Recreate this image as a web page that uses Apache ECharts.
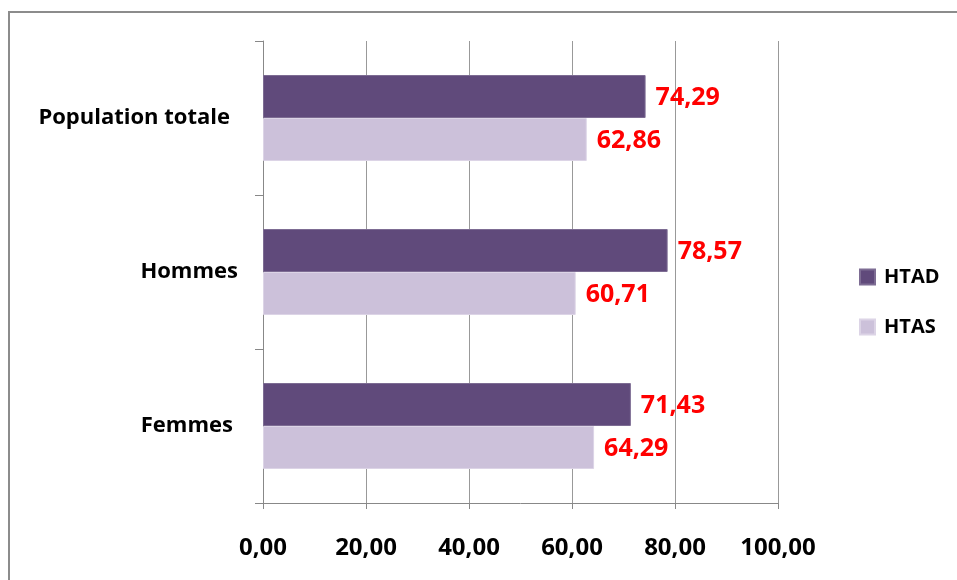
<!DOCTYPE html>
<html>
<head>
<meta charset="utf-8">
<script src="https://cdn.jsdelivr.net/npm/echarts@6/dist/echarts.min.js"></script>
<style>
  html, body { margin: 0; padding: 0; background: #fff; }
  #chart { width: 957px; height: 580px; }
</style>
</head>
<body>
<div id="chart"></div>
<script>
// Categories listed bottom-to-top (ECharts category y-axis starts at the bottom)
const categories = ['Femmes', 'Hommes', 'Population totale'];
const htad = [71.43, 78.57, 74.29];
const htas = [64.29, 60.71, 62.86];
const xTicks = [0, 20, 40, 60, 80, 100];

const fontFamily = '"Open Sans", "Liberation Sans", sans-serif';
const fmt = v => Number(v).toFixed(2).replace('.', ',');

// Per-category text style key, so each label can sit a little differently
const labelKeys = { 'Femmes': 'f', 'Hommes': 'h', 'Population totale': 'p' };
const catText = { color: '#000', fontFamily: fontFamily, fontWeight: 'bold', fontSize: 22 };

const chart = echarts.init(document.getElementById('chart'), null, { renderer: 'canvas' });

const labelStyle = {
  show: true,
  position: 'right',
  distance: 10,
  color: '#ff0000',
  fontFamily: fontFamily,
  fontWeight: 'bold',
  fontSize: 25,
  offset: [0, 1],
  formatter: p => fmt(p.value)
};

chart.setOption({
  animation: false,
  backgroundColor: '#ffffff',
  graphic: [{
    type: 'rect',
    shape: { x: 9, y: 12, width: 1200, height: 1200 },
    style: { fill: 'none', stroke: '#8c8c8c', lineWidth: 2 },
    silent: true
  }],
  legend: {
    orient: 'vertical',
    left: 854,
    top: 262,
    itemWidth: 15,
    itemHeight: 15,
    itemGap: 30,
    icon: 'rect',
    data: ['HTAD', 'HTAS'],
    textStyle: { fontFamily: fontFamily, fontWeight: 'bold', fontSize: 20, color: '#000', padding: [0, 0, 0, 4] }
  },
  grid: { left: 263, right: 957 - 778, top: 41, bottom: 580 - 503, containLabel: false },
  xAxis: {
    type: 'value',
    min: xTicks[0],
    max: xTicks[xTicks.length - 1],
    interval: 20,
    axisLine: { show: true, lineStyle: { color: '#888', width: 1 } },
    axisTick: { show: true, length: 6, lineStyle: { color: '#888' } },
    splitLine: { show: true, lineStyle: { color: '#999', width: 1 } },
    axisLabel: {
      formatter: v => fmt(v),
      margin: 33,
      color: '#000',
      fontFamily: fontFamily,
      fontWeight: 'bold',
      fontSize: 24
    }
  },
  yAxis: {
    type: 'category',
    data: categories,
    axisLine: { show: true, lineStyle: { color: '#888', width: 1 } },
    axisTick: { show: true, length: 8, lineStyle: { color: '#888' } },
    axisLabel: {
      margin: 25,
      formatter: v => '{' + labelKeys[v] + '|' + v + '}',
      rich: {
        p: Object.assign({ padding: [0, 8, 0, 0] }, catText),
        h: Object.assign({ padding: [0, 0, 0, 0] }, catText),
        f: Object.assign({ padding: [0, 5, 0, 0] }, catText)
      }
    }
  },
  series: [
    {
      name: 'HTAD',
      type: 'bar',
      data: htad,
      barWidth: 43,
      barGap: '0%',
      itemStyle: { color: '#604a7b', borderColor: '#7d6c93', borderWidth: 1 },
      label: labelStyle
    },
    {
      name: 'HTAS',
      type: 'bar',
      data: htas,
      barWidth: 43,
      barGap: '0%',
      itemStyle: { color: '#ccc1da', borderColor: '#dcd4e6', borderWidth: 1 },
      label: labelStyle
    }
  ]
});
</script>
</body>
</html>
